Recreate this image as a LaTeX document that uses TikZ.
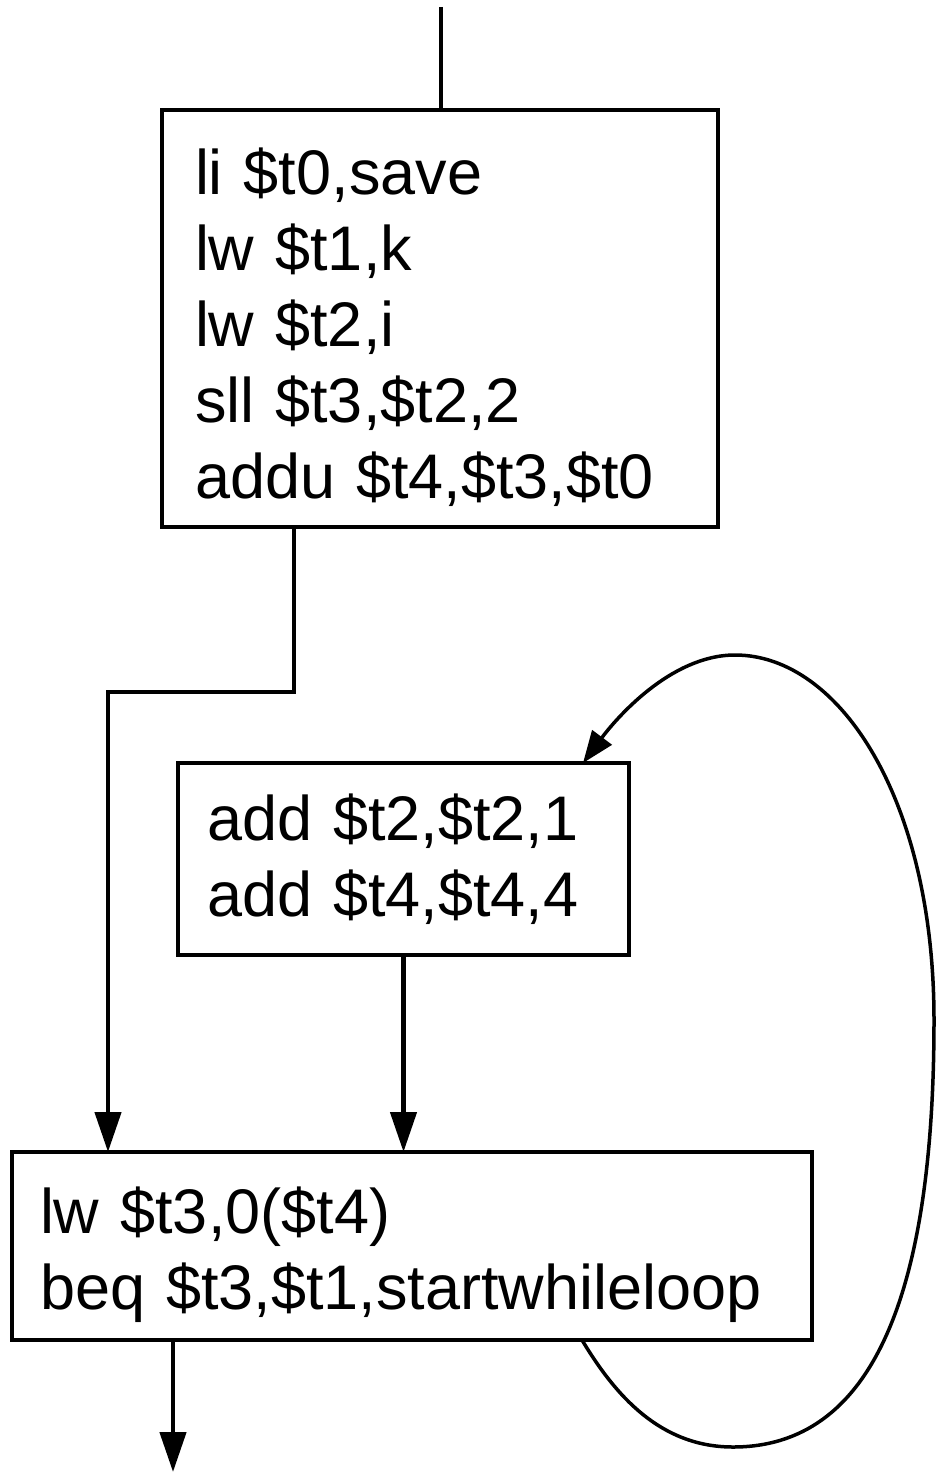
\documentclass[tikz,border=0pt]{standalone}
\usepackage{fontspec}
\setmainfont{Liberation Sans}
\usetikzlibrary{arrows.meta,positioning}

\begin{document}
\begin{tikzpicture}[x=1pt,y=-1pt,
  codebox/.style={draw,line width=3.5pt,anchor=north west,align=left,outer sep=0pt,
              inner ysep=0pt,font=\fontsize{63}{76}\selectfont},
  flow/.style={line width=4.5pt,-{Triangle[length=40pt,width=26pt]}},
  back/.style={line width=3.5pt,-{Triangle[length=32pt,width=24pt]}}]
  \useasboundingbox (0,0) rectangle (935,1472);
  \node[codebox,text width=490pt,inner xsep=33pt,minimum height=417pt] (init) at (162,110)
    {\rule{0pt}{64pt}li \$t0,save\\lw \$t1,k\\lw \$t2,i\\sll \$t3,\$t2,2\\addu \$t4,\$t3,\$t0};
  \node[codebox,text width=393pt,inner xsep=29pt,minimum height=192pt] (body) at (178,763)
    {add \$t2,\$t2,1\\add \$t4,\$t4,4};
  \node[codebox,text width=744pt,inner xsep=28pt,minimum height=188pt] (cond) at (12,1152)
    {\rule{0pt}{64pt}lw \$t3,0(\$t4)\\beq \$t3,\$t1,startwhileloop};
  \coordinate (entry) at (441,7);
  \coordinate (exit) at (173,1472);
  \draw[line width=4.5pt] (entry) -- (entry |- init.north);
  \draw[flow] ([xshift=132pt]init.south west) -- ++(0,165) -| ([xshift=96pt]cond.north west);
  \draw[flow] (body.south) -- (body.south |- cond.north);
  \draw[flow] ([xshift=161pt]cond.south west) -- (exit);
  \draw[back] ([xshift=570pt]cond.south west) .. controls (615,1395) and (660,1447) .. (733,1447)
    .. controls (870,1447) and (934,1300) .. (934,1020)
    .. controls (934,800) and (840,655) .. (735,655)
    .. controls (670,655) and (615,720) .. ([xshift=405pt]body.north west);
\end{tikzpicture}
\end{document}
